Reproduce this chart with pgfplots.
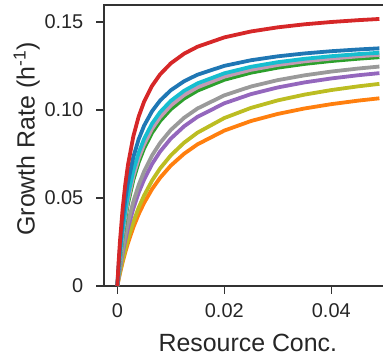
\documentclass[border=0pt]{standalone}
\usepackage{fontspec}
\setmainfont{Liberation Sans}
\usepackage{pgfplots}
\pgfplotsset{compat=1.18}
\definecolor{cred}{HTML}{D62728}
\definecolor{cblue}{HTML}{1F77B4}
\definecolor{ccyan}{HTML}{17BECF}
\definecolor{cpink}{HTML}{C49AB4}
\definecolor{cgreen}{HTML}{2CA02C}
\definecolor{cgray}{HTML}{9A9A9A}
\definecolor{cpurple}{HTML}{9467BD}
\definecolor{colive}{HTML}{BCBD22}
\definecolor{corange}{HTML}{FF7F0E}
\begin{document}
\begin{tikzpicture}
\begin{axis}[
  scale only axis,
  width=282bp, height=281bp,
  xmin=-0.002486, xmax=0.05023,
  ymin=0, ymax=0.15966,
  scaled x ticks=false, scaled y ticks=false,
  axis line style={line width=1.2bp, color=black!80},
  tick style={line width=1.2bp, color=black!80},
  tick align=outside,
  major tick length=7.5bp,
  xtick pos=bottom, ytick pos=left,
  xtick={0,0.02,0.04}, xticklabels={0,0.02,0.04},
  ytick={0,0.05,0.10,0.15}, yticklabels={0,0.05,0.10,0.15},
  ticklabel style={font=\fontsize{20}{24}\selectfont, text=black!85},
  yticklabel style={inner sep=0pt, xshift=-13bp},
  xticklabel style={inner sep=0pt, yshift=-10bp},
  /pgf/number format/assume math mode=true,
  xlabel={Resource Conc.},
  ylabel={Growth Rate (h\textsuperscript{-1})},
  every axis x label/.style={at={(axis description cs:0.51,0)}, anchor=north, inner sep=0pt, yshift=-48bp, font=\fontsize{25}{30}\selectfont, text=black!85},
  every axis y label/.style={at={(axis description cs:0,0.523)}, rotate=90, anchor=south, inner sep=0pt, yshift=64bp, font=\fontsize{25}{30}\selectfont, text=black!85},
  every axis plot post/.append style={line width=3.8bp, no markers, line join=round},
]
\addplot[corange] coordinates {(0,0) (0.00025,0.00368) (0.0005,0.00716) (0.001,0.01353) (0.0015,0.01925) (0.002,0.02441) (0.003,0.03335) (0.004,0.04082) (0.005,0.04716) (0.0065,0.05505) (0.008,0.06148) (0.01,0.06841) (0.0125,0.07518) (0.015,0.08050) (0.02,0.08830) (0.025,0.09375) (0.03,0.09777) (0.035,0.10087) (0.04,0.10332) (0.045,0.10531) (0.049,0.10665)};
\addplot[colive] coordinates {(0,0) (0.00025,0.00405) (0.0005,0.00786) (0.001,0.01484) (0.0015,0.02109) (0.002,0.02672) (0.003,0.03644) (0.004,0.04453) (0.005,0.05138) (0.0065,0.05989) (0.008,0.06680) (0.01,0.07422) (0.0125,0.08146) (0.015,0.08713) (0.02,0.09543) (0.025,0.10121) (0.03,0.10547) (0.035,0.10874) (0.04,0.11133) (0.045,0.11343) (0.049,0.11485)};
\addplot[cpurple] coordinates {(0,0) (0.00025,0.00521) (0.0005,0.01004) (0.001,0.01870) (0.0015,0.02625) (0.002,0.03289) (0.003,0.04403) (0.004,0.05301) (0.005,0.06040) (0.0065,0.06932) (0.008,0.07636) (0.01,0.08374) (0.0125,0.09076) (0.015,0.09613) (0.02,0.10380) (0.025,0.10903) (0.03,0.11281) (0.035,0.11568) (0.04,0.11793) (0.045,0.11974) (0.049,0.12095)};
\addplot[cgray] coordinates {(0,0) (0.00025,0.00585) (0.0005,0.01123) (0.001,0.02078) (0.0015,0.02900) (0.002,0.03616) (0.003,0.04800) (0.004,0.05740) (0.005,0.06505) (0.0065,0.07416) (0.008,0.08128) (0.01,0.08866) (0.0125,0.09560) (0.015,0.10087) (0.02,0.10833) (0.025,0.11335) (0.03,0.11698) (0.035,0.11970) (0.04,0.12184) (0.045,0.12355) (0.049,0.12469)};
\addplot[cgreen] coordinates {(0,0) (0.00025,0.00827) (0.0005,0.01562) (0.001,0.02812) (0.0015,0.03835) (0.002,0.04687) (0.003,0.06026) (0.004,0.07030) (0.005,0.07811) (0.0065,0.08704) (0.008,0.09373) (0.01,0.10043) (0.0125,0.10652) (0.015,0.11100) (0.02,0.11717) (0.025,0.12121) (0.03,0.12406) (0.035,0.12618) (0.04,0.12782) (0.045,0.12912) (0.049,0.12999)};
\addplot[cpink] coordinates {(0,0) (0.00025,0.00873) (0.0005,0.01645) (0.001,0.02948) (0.0015,0.04005) (0.002,0.04879) (0.003,0.06243) (0.004,0.07256) (0.005,0.08040) (0.0065,0.08930) (0.008,0.09593) (0.01,0.10254) (0.0125,0.10851) (0.015,0.11290) (0.02,0.11891) (0.025,0.12283) (0.03,0.12559) (0.035,0.12764) (0.04,0.12922) (0.045,0.13048) (0.049,0.13132)};
\addplot[ccyan] coordinates {(0,0) (0.00025,0.00947) (0.0005,0.01775) (0.001,0.03156) (0.0015,0.04260) (0.002,0.05164) (0.003,0.06554) (0.004,0.07573) (0.005,0.08353) (0.0065,0.09230) (0.008,0.09878) (0.01,0.10519) (0.0125,0.11094) (0.015,0.11514) (0.02,0.12085) (0.025,0.12456) (0.03,0.12716) (0.035,0.12909) (0.04,0.13057) (0.045,0.13175) (0.049,0.13253)};
\addplot[cblue] coordinates {(0,0) (0.00025,0.01152) (0.0005,0.02133) (0.001,0.03712) (0.0015,0.04928) (0.002,0.05893) (0.003,0.07328) (0.004,0.08345) (0.005,0.09102) (0.0065,0.09934) (0.008,0.10536) (0.01,0.11121) (0.0125,0.11637) (0.015,0.12008) (0.02,0.12508) (0.025,0.12828) (0.03,0.13050) (0.035,0.13214) (0.04,0.13340) (0.045,0.13439) (0.049,0.13505)};
\addplot[cred] coordinates {(0,0) (0.00025,0.01383) (0.0005,0.02546) (0.001,0.04393) (0.0015,0.05794) (0.002,0.06892) (0.003,0.08505) (0.004,0.09633) (0.005,0.10465) (0.0065,0.11372) (0.008,0.12023) (0.01,0.12650) (0.0125,0.13202) (0.015,0.13597) (0.02,0.14125) (0.025,0.14463) (0.03,0.14697) (0.035,0.14869) (0.04,0.15000) (0.045,0.15104) (0.049,0.15173)};
\coordinate (sw) at (rel axis cs:0,0);
\end{axis}
\pgfresetboundingbox
\path[use as bounding box] (sw) ++(-104bp,-71bp) rectangle ++(383bp,357bp);
\end{tikzpicture}
\end{document}
